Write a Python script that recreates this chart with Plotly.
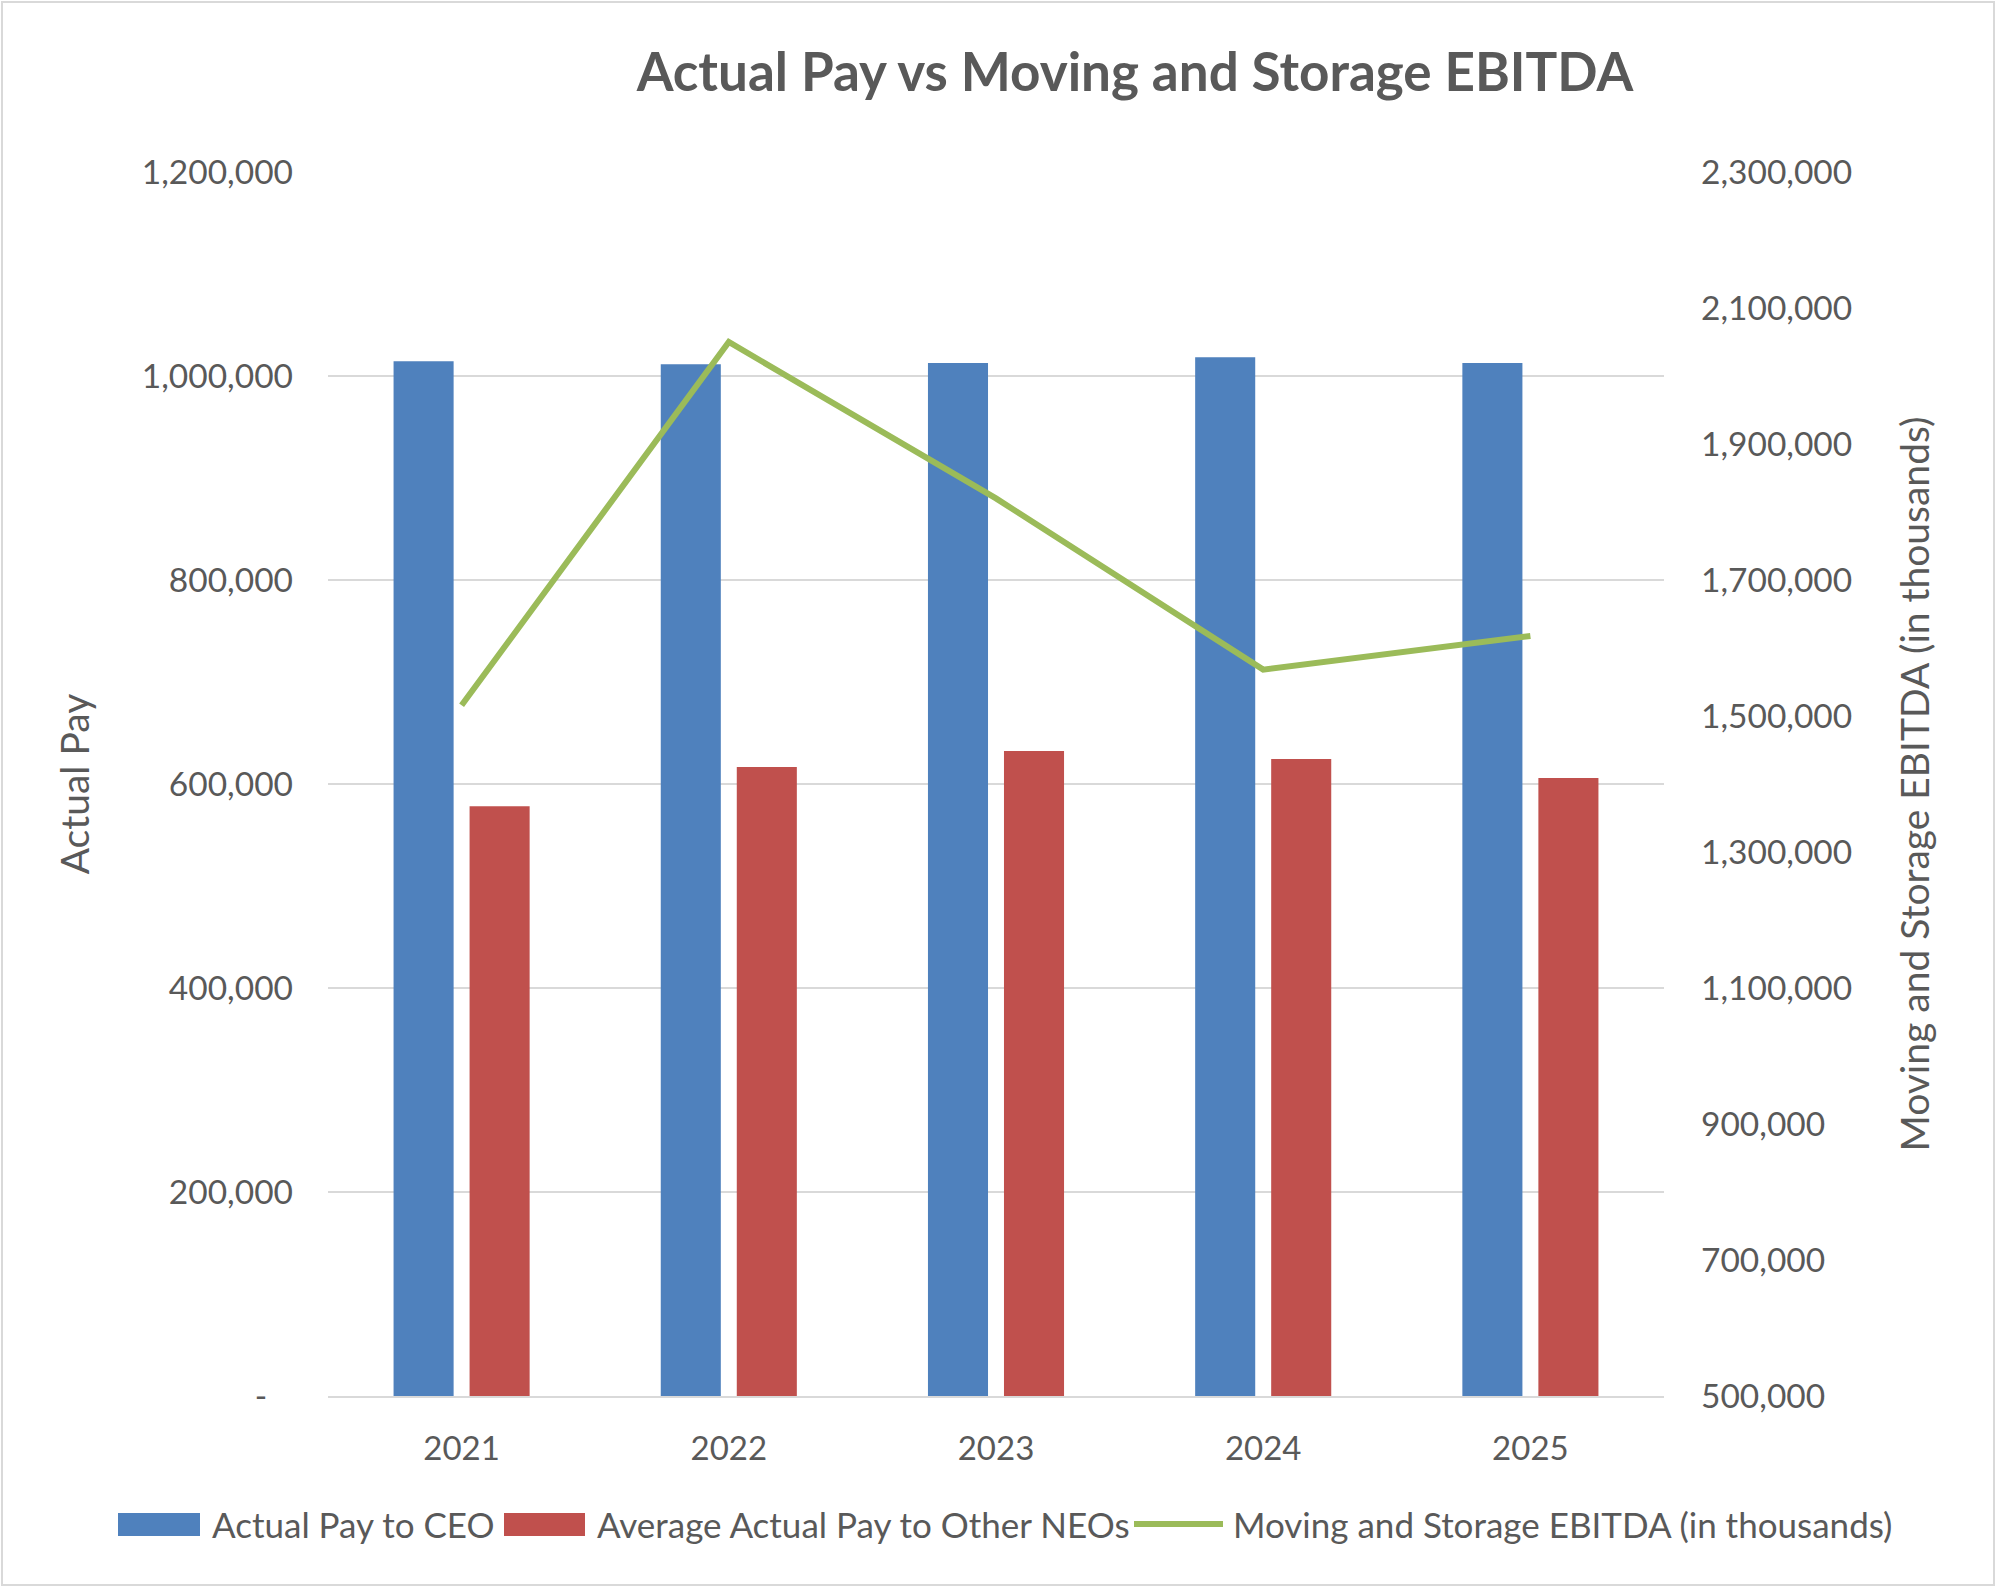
import plotly.graph_objects as go

years = ["2021", "2022", "2023", "2024", "2025"]
ceo_pay = [1014400, 1011500, 1012800, 1018400, 1012800]
neo_pay = [578100, 616600, 632300, 624500, 605800]
ebitda = [1515700, 2050000, 1820000, 1568200, 1617600]
series_names = ["Actual Pay to CEO", "Average Actual Pay to Other NEOs",
                "Moving and Storage EBITDA (in thousands)"]

left_ticks = [0, 200000, 400000, 600000, 800000, 1000000, 1200000]
left_text = ["-\u00a0\u00a0\u00a0"] + [f"{v:,}" for v in left_ticks[1:]]
right_ticks = list(range(500000, 2300001, 200000))

TXT = "#595959"
FONT = "Lato"
GRID = "#D9D9D9"
COLORS = ["#4F81BD", "#C0504D", "#9BBB59"]

fig = go.Figure()
fig.add_trace(go.Bar(x=years, y=ceo_pay, name=series_names[0], showlegend=False,
                     marker=dict(color=COLORS[0], line=dict(width=0))))
fig.add_trace(go.Bar(x=years, y=neo_pay, name=series_names[1], showlegend=False,
                     marker=dict(color=COLORS[1], line=dict(width=0))))
fig.add_trace(go.Scatter(x=years, y=ebitda, name=series_names[2], showlegend=False,
                         mode="lines", line=dict(color=COLORS[2], width=6), yaxis="y2"))

W, H = 1997, 1588
L, R, T, B = 328, 1664, 172, 1396
pw, ph = R - L, B - T


def px(x):
    return (x - L) / pw


def py(y):
    return (B - y) / ph


# manual legend (Excel-style wide swatches)
LEG_Y = 1524
swatches = [(118, 200, "rect"), (504, 585, "rect"), (1134, 1223, "line")]
text_x = [210, 595, 1231]
shapes = [dict(type="rect", xref="paper", yref="paper",
               x0=px(2), x1=px(1994), y0=py(1585), y1=py(2),
               line=dict(color=GRID, width=2), layer="below")]
annotations = []
for (x0, x1, kind), tx, name, col in zip(swatches, text_x, series_names, COLORS):
    if kind == "rect":
        shapes.append(dict(type="rect", xref="paper", yref="paper",
                           x0=px(x0), x1=px(x1), y0=py(1536), y1=py(1513),
                           fillcolor=col, line=dict(width=0)))
    else:
        shapes.append(dict(type="line", xref="paper", yref="paper",
                           x0=px(x0), x1=px(x1), y0=py(LEG_Y), y1=py(LEG_Y),
                           line=dict(color=col, width=6)))
    annotations.append(dict(text=name, xref="paper", yref="paper",
                            x=px(tx), y=py(LEG_Y), xanchor="left", yanchor="middle",
                            showarrow=False, font=dict(family=FONT, size=35, color=TXT)))

fig.update_layout(
    width=W, height=H,
    margin=dict(l=L, r=W - R, t=T, b=H - B, autoexpand=False),
    paper_bgcolor="white", plot_bgcolor="white",
    font=dict(family=FONT, color=TXT, size=33),
    barmode="group", bargap=0.431, bargroupgap=0.21,
    showlegend=False,
    title=dict(text="<b>Actual Pay vs Moving and Storage EBITDA</b>",
               x=1135 / W, xref="container", xanchor="center",
               y=1 - 72 / H, yref="container", yanchor="middle",
               font=dict(family=FONT, size=53, color=TXT)),
    xaxis=dict(showgrid=False, showline=True, linecolor=GRID, linewidth=2,
               ticks="", ticklabelstandoff=22, tickfont=dict(size=33, color=TXT)),
    yaxis=dict(range=[0, 1200000], tickvals=left_ticks, ticktext=left_text,
               showgrid=True, gridcolor=GRID, gridwidth=2, zeroline=False,
               ticks="", ticklabelstandoff=34, tickfont=dict(size=33.5, color=TXT),
               title=dict(text="Actual Pay", standoff=40, font=dict(size=39, color=TXT))),
    yaxis2=dict(range=[500000, 2300000], tickvals=right_ticks,
                ticktext=[f"{v:,}" for v in right_ticks],
                overlaying="y", side="right", showgrid=False, zeroline=False,
                ticks="", ticklabelstandoff=36, tickfont=dict(size=33.5, color=TXT),
                title=dict(text=series_names[2], standoff=50,
                           font=dict(size=39, color=TXT))),
    shapes=shapes,
    annotations=annotations,
)

fig.write_html("out.html")
